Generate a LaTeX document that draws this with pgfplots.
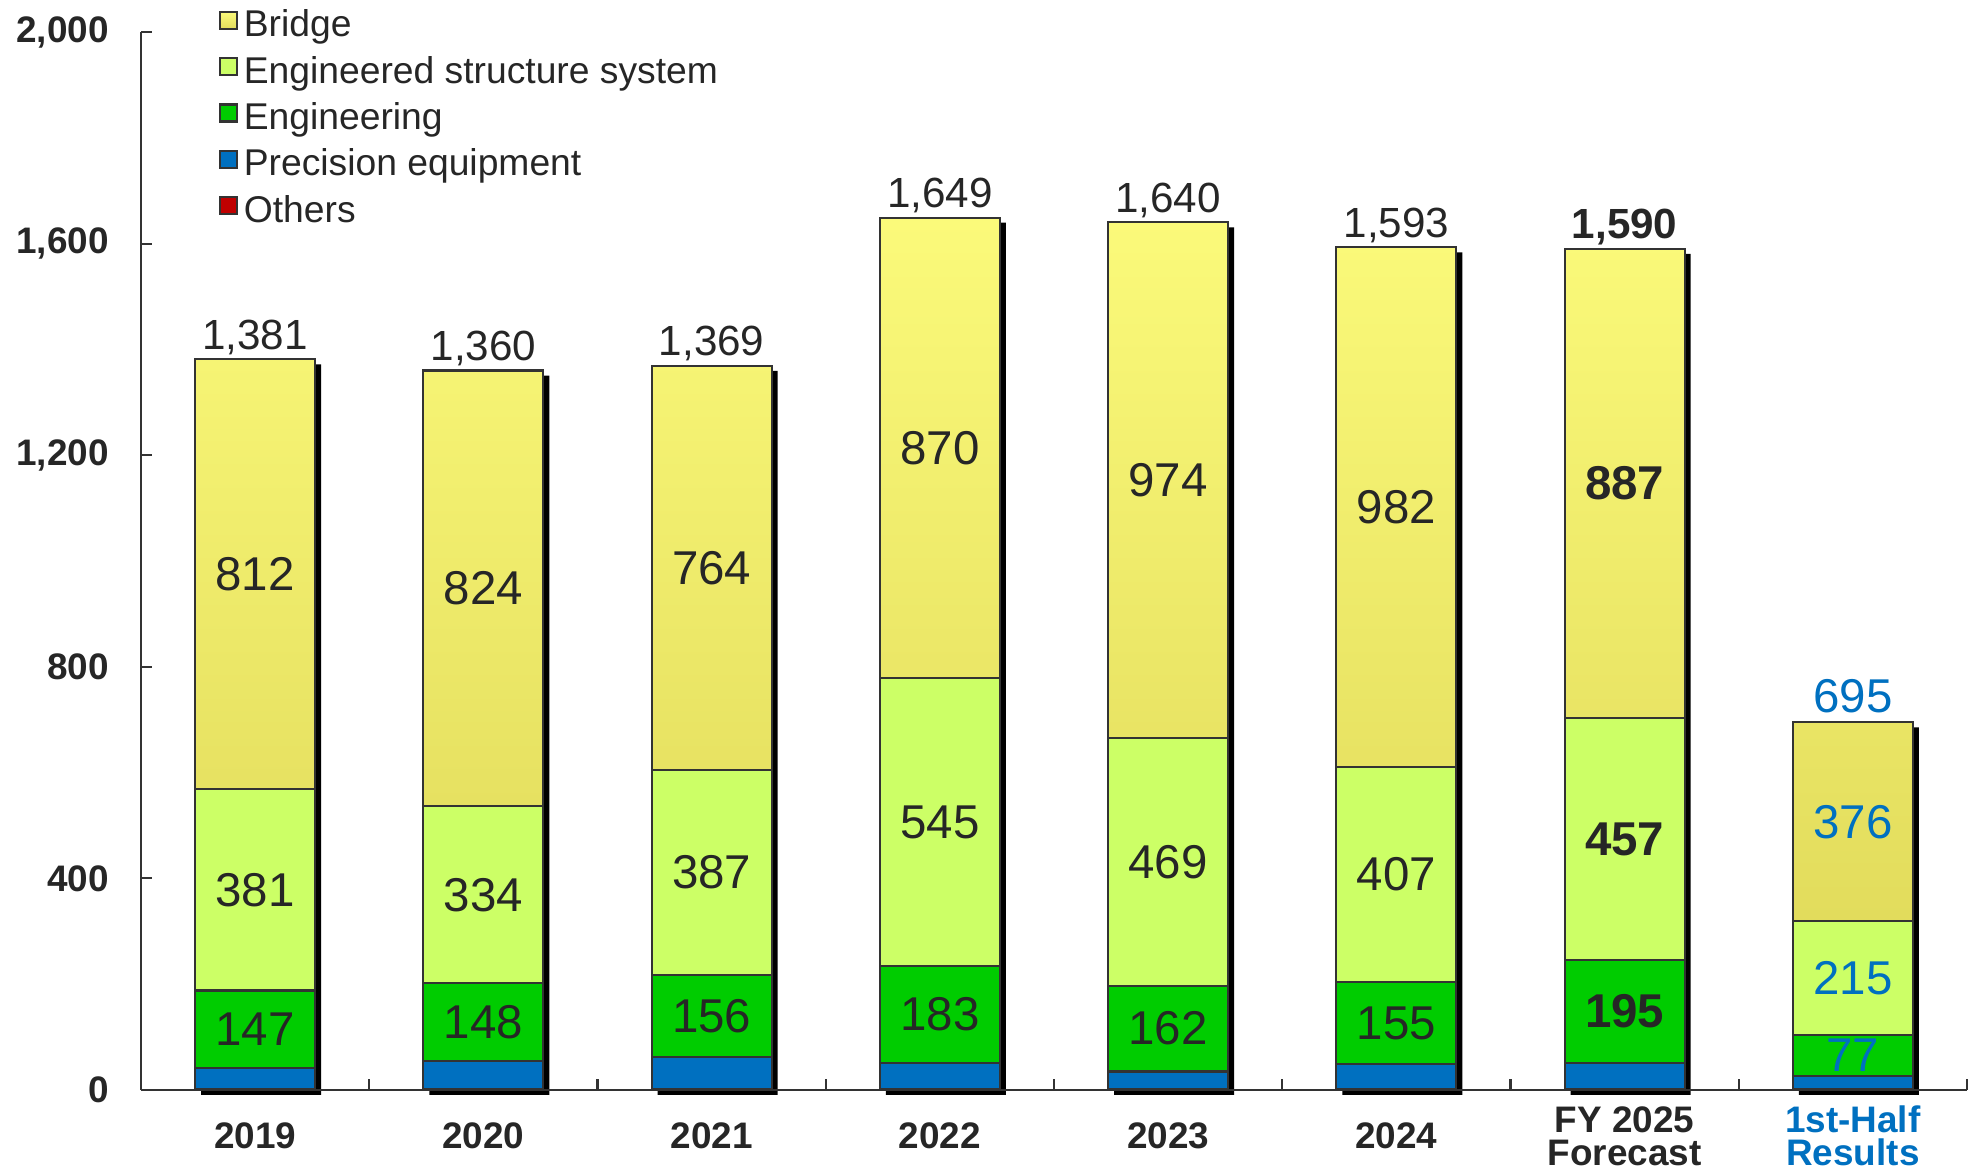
\documentclass[border=0pt]{standalone}
\usepackage{fontspec}
\setmainfont{Liberation Sans}
\usepackage{pgfplots}
\usepackage{pgfplotstable}
\pgfplotsset{compat=1.18}

\definecolor{ctext}{HTML}{262626}
\definecolor{cedge}{HTML}{333333}
\definecolor{cblue}{HTML}{0070C0}
\definecolor{cothers}{HTML}{C00000}
\definecolor{cprec}{HTML}{0070C0}
\definecolor{ceng}{HTML}{00CC00}
\definecolor{cess}{HTML}{CCFF66}
\definecolor{cbrtop}{HTML}{FBFA7A}
\definecolor{cbrbot}{HTML}{E2DC5C}

\newcommand{\lb}[1]{\textbf{#1}}
\newcommand{\lc}[1]{\textcolor{cblue}{#1}}
\newcommand{\lt}[1]{\textcolor{cblue}{\fontsize{13.5}{16}\selectfont #1}}

% sales by segment; others is a sliver at the bottom
\pgfplotstableread{
x others prec eng ess bridge sum
0 1 40 147 381 812 1381
1 1 53 148 334 824 1360
2 1 61 156 387 764 1369
3 1 50 183 545 870 1649
4 1 34 162 469 974 1640
5 1 48 155 407 982 1593
6 1 50 195 457 887 1590
7 1 26 77 215 376 695
}\sales

% label texts, placed at the middle of each segment
\pgfplotstableread{
x meng mess mbr sum leng less lbr ltotal
0 114.5 378.5 975 1381 147 381 812 1,381
1 128 369 948 1360 148 334 824 1,360
2 140 411.5 987 1369 156 387 764 1,369
3 142.5 506.5 1214 1649 183 545 870 1,649
4 116 431.5 1153 1640 162 469 974 1,640
5 126.5 407.5 1102 1593 155 407 982 1,593
6 148.5 474.5 1146.5 1590 \lb{195} \lb{457} \lb{887} \lb{1,590}
7 65.5 211.5 507 695 \lc{77} \lc{215} \lc{376} \lt{695}
}\labels

\begin{document}
\begin{tikzpicture}
\pgfplotsset{
  base/.style={scale only axis, width=18.26cm, height=10.58cm,
    xmin=-0.5, xmax=7.5, ymin=0, ymax=2000, clip=false},
  sq/.style={legend image code/.code={\draw[##1, line width=0.6pt] (0cm,-0.03cm) rectangle (0.17cm,0.14cm);}},
  seglab/.style={draw=none, mark=none, nodes near coords, point meta=explicit symbolic,
    every node near coord/.append style={anchor=center, text=ctext,
      font=\fontsize{13.5}{16}\selectfont}},
}

% drop shadows behind the bars
\begin{axis}[base, hide axis, ybar, bar width=1.2cm]
\addplot[fill=black, draw=none, bar shift=0.06cm, yshift=-0.05cm] table[x=x, y=sum] {\sales};
\end{axis}

\begin{axis}[base, name=main, ybar stacked, bar width=1.2cm,
  axis x line=bottom, axis y line=left,
  axis line style={-, draw=cedge, line width=0.6pt},
  ytick={0,400,...,2000},
  major tick length=0.11cm, tick align=inside,
  tick style={draw=cedge, line width=0.6pt},
  xtick={-0.5,0.5,...,7.5}, xticklabels={},
  extra x ticks={0,1,...,7},
  extra x tick labels={2019,2020,2021,2022,2023,2024,{FY 2025\\Forecast},{\lc{1st-Half}\\\lc{Results}}},
  extra x tick style={major tick length=0pt},
  xticklabel style={font=\bfseries\fontsize{10.5}{9.4}\selectfont, text=ctext,
    align=center, anchor=center, yshift=-0.46cm},
  yticklabel style={font=\bfseries\fontsize{10.5}{12}\selectfont, text=ctext, xshift=-0.2cm},
  /pgf/number format/assume math mode=true,
  legend style={at={(0,1)}, anchor=north west, xshift=0.77cm, yshift=0.3cm,
    draw=none, fill=none, inner sep=0pt, row sep=0pt, column sep=-0.01cm,
    font=\fontsize{10.6}{12}\selectfont, text=ctext},
  legend cell align=left, reverse legend,
]
\addplot[fill=cothers, draw=cedge, line width=0.6pt, sq] table[x=x, y=others] {\sales};
\addlegendentry{Others}
\addplot[fill=cprec, draw=cedge, line width=0.6pt, sq] table[x=x, y=prec] {\sales};
\addlegendentry{Precision equipment}
\addplot[fill=ceng, draw=cedge, line width=0.6pt, sq] table[x=x, y=eng] {\sales};
\addlegendentry{Engineering}
\addplot[fill=cess, draw=cedge, line width=0.6pt, sq] table[x=x, y=ess] {\sales};
\addlegendentry{Engineered structure system}
\addplot[top color=cbrtop, bottom color=cbrbot, draw=cedge, line width=0.6pt, sq] table[x=x, y=bridge] {\sales};
\addlegendentry{Bridge}
\end{axis}

% value labels
\begin{axis}[base, hide axis]
\addplot[seglab] table[x=x, y=meng, meta=leng] {\labels};
\addplot[seglab] table[x=x, y=mess, meta=less] {\labels};
\addplot[seglab] table[x=x, y=mbr, meta=lbr] {\labels};
\addplot[draw=none, mark=none, nodes near coords, point meta=explicit symbolic,
  every node near coord/.append style={anchor=base, inner sep=0pt, yshift=0.1cm,
    text=ctext, font=\fontsize{12}{14}\selectfont}]
  table[x=x, y=sum, meta=ltotal] {\labels};
\end{axis}

\pgfresetboundingbox
\path[use as bounding box] ([xshift=-1.41cm,yshift=-0.83cm]main.south west)
  rectangle ([xshift=0.10cm,yshift=0.32cm]main.north east);
\end{tikzpicture}
\end{document}
